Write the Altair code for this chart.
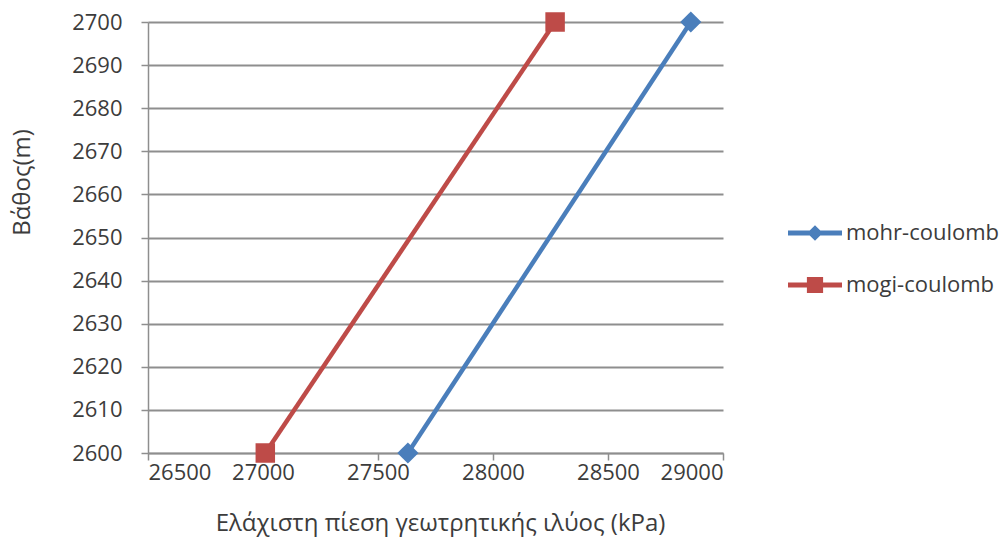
import altair as alt
import pandas as pd

series_names = ["mohr-coulomb", "mogi-coulomb"]
depth_m = [2600, 2700]
mohr_kpa = [27630, 28860]
mogi_kpa = [27010, 28270]
series_colors = ["#4A7EBB", "#BE4B48"]
x_ticks = [26500, 27000, 27500, 28000, 28500, 29000]
y_ticks = [2600, 2610, 2620, 2630, 2640, 2650, 2660, 2670, 2680, 2690, 2700]
x_title = "Ελάχιστη πίεση γεωτρητικής ιλύος (kPa)"
y_title = "Βάθος(m)"

rows = []
for d, p in zip(depth_m, mohr_kpa):
    rows.append({"series": series_names[0], "depth": d, "pressure": p})
for d, p in zip(depth_m, mogi_kpa):
    rows.append({"series": series_names[1], "depth": d, "pressure": p})
df = pd.DataFrame(rows)

FONT = "Open Sans"
TXT = "#3c3c3c"
GRID = "#8e8e8e"

legend_paths = [
    "M-1,-0.09L1,-0.09L1,0.09L-1,0.09Z M0,-0.29L0.29,0L0,0.29L-0.29,0Z",
    "M-1,-0.09L1,-0.09L1,0.09L-1,0.09Z M-0.3,-0.3L0.3,-0.3L0.3,0.3L-0.3,0.3Z",
]
legend_tops = [184, 236]

x_enc = alt.X(
    "pressure:Q",
    scale=alt.Scale(domain=[26500, 29000], nice=False, zero=False),
    axis=alt.Axis(
        values=x_ticks, title=x_title, grid=False, format="d",
        labelPadding=2, titleX=292, titleY=70, titleBaseline="middle",
        titleAlign="center", titleFontSize=24,
    ),
)
y_enc = alt.Y(
    "depth:Q",
    scale=alt.Scale(domain=[2600, 2700], nice=False, zero=False),
    axis=alt.Axis(
        values=y_ticks, title=y_title, grid=True, format="d",
        labelPadding=19, titleX=-126, titleY=160, titleAngle=270,
        titleBaseline="middle", titleAlign="center", titleFontSize=24,
    ),
)
color_scale = alt.Scale(domain=series_names, range=series_colors)

base = alt.Chart(df)

lines = base.mark_line(strokeWidth=4.5).encode(
    x=x_enc, y=y_enc,
    color=alt.Color("series:N", scale=color_scale, legend=None),
    order="depth:Q",
)

points = base.mark_point(filled=True, opacity=1).encode(
    x="pressure:Q", y="depth:Q",
    color=alt.Color("series:N", scale=color_scale, legend=None),
    shape=alt.Shape("series:N", scale=alt.Scale(domain=series_names, range=["diamond", "square"]), legend=None),
    size=alt.Size("series:N", scale=alt.Scale(domain=series_names, range=[450, 380]), legend=None),
)

legend_layers = []
for name, col, path, top in zip(series_names, series_colors, legend_paths, legend_tops):
    leg = alt.Legend(
        title=None, orient="none", legendX=640, legendY=top,
        labelFont=FONT, labelFontSize=22, labelColor=TXT,
        symbolType=path, symbolSize=2916, symbolStrokeWidth=0, symbolOpacity=1,
        symbolFillColor=col, padding=0, labelOffset=4,
    )
    legend_layers.append(
        base.transform_filter(alt.datum.series == name)
        .mark_point(filled=True, opacity=0, size=2916, shape=path)
        .encode(
            x="pressure:Q", y="depth:Q",
            color=alt.Color("series:N", scale=alt.Scale(domain=[name], range=[col]), legend=leg),
        )
    )

chart = (
    alt.layer(lines, points, *legend_layers)
    .resolve_scale(color="independent", shape="independent", size="independent")
    .properties(
        width=575, height=431,
        autosize=alt.AutoSizeParams(type="none"),
        padding={"left": 148, "top": 22, "right": 285, "bottom": 86},
        background="white",
    )
    .configure_view(stroke=None)
    .configure_axis(
        labelFont=FONT, labelFontSize=22, labelColor=TXT,
        titleFont=FONT, titleColor=TXT, titleFontWeight="normal",
        domainColor=GRID, domainWidth=1.5, tickColor=GRID, tickWidth=1.5, tickSize=7,
        gridColor=GRID, gridWidth=2,
    )
)

chart.save("out.html", embed_options={"renderer": "svg", "actions": False})
